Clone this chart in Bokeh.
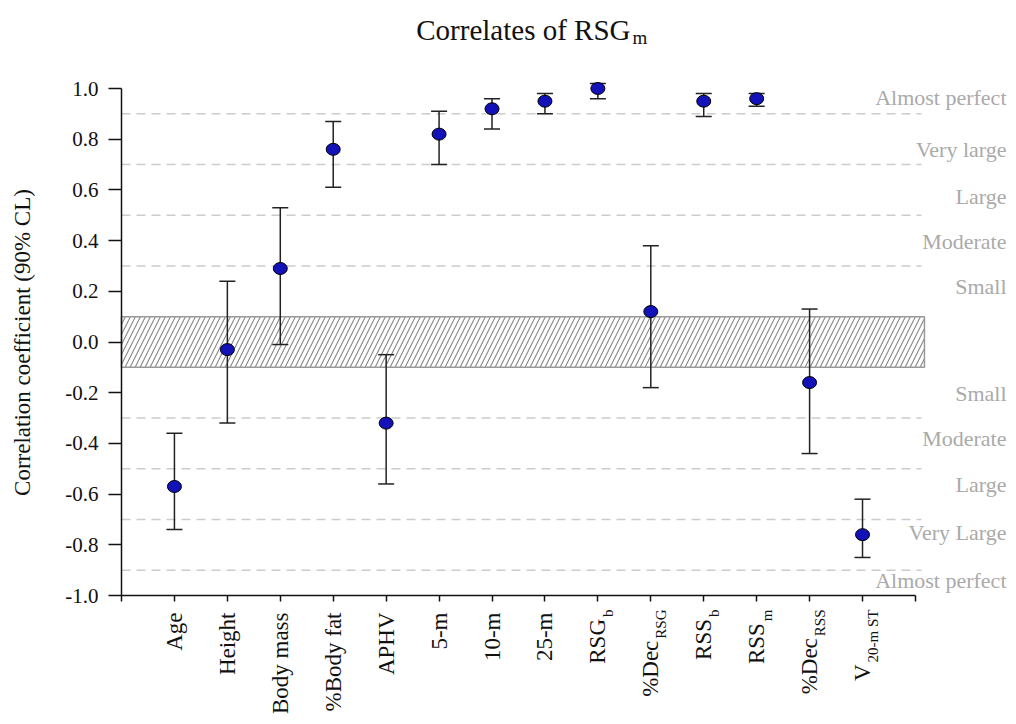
import math
from bokeh.plotting import figure
from bokeh.models import FixedTicker, Label, PrintfTickFormatter
from bokeh.embed import file_html
from bokeh.resources import INLINE

# ---------------- data ----------------
categories = ["Age", "Height", "Body mass", "%Body fat", "APHV", "5-m", "10-m",
              "25-m", "RSG", "%Dec", "RSS", "RSS", "%Dec", "V"]
subscripts = ["", "", "", "", "", "", "", "", "b", "RSG", "b", "m", "RSS", "20-m ST"]
r_values = [-0.57, -0.03, 0.29, 0.76, -0.32, 0.82, 0.92, 0.95, 1.00, 0.12, 0.95, 0.96, -0.16, -0.76]
ci_lower = [-0.74, -0.32, -0.01, 0.61, -0.56, 0.70, 0.84, 0.90, 0.96, -0.18, 0.89, 0.93, -0.44, -0.85]
ci_upper = [-0.36, 0.24, 0.53, 0.87, -0.05, 0.91, 0.96, 0.98, 1.02, 0.38, 0.98, 0.98, 0.13, -0.62]

thresholds = [0.9, 0.7, 0.5, 0.3, -0.3, -0.5, -0.7, -0.9]
trivial_band = [-0.1, 0.1]
y_ticks = [-1.0, -0.8, -0.6, -0.4, -0.2, 0.0, 0.2, 0.4, 0.6, 0.8, 1.0]

magnitude_labels = ["Almost perfect", "Very large", "Large", "Moderate", "Small",
                    "Small", "Moderate", "Large", "Very Large", "Almost perfect"]
magnitude_label_y = [0.963, 0.76, 0.574, 0.397, 0.22,
                     -0.204, -0.382, -0.562, -0.75, -0.941]

title_main = "Correlates of RSG"
title_sub = "m"
y_label = "Correlation coefficient (90% CL)"

# ---------------- geometry ----------------
FONT = "Liberation Serif"
INK = "#111111"
CANVAS_W, CANVAS_H = 1008, 716
PX_PER_X = 52.93          # pixels per category step
PX_PER_Y = 253.5          # pixels per unit of r
AXIS_LEFT_PX = 121        # page x of x = 0 (y axis)
AXIS_TOP_PX = 88          # page y of r = 1.0

X_START = -AXIS_LEFT_PX / PX_PER_X
X_END = X_START + CANVAS_W / PX_PER_X
Y_END = 1.0 + AXIS_TOP_PX / PX_PER_Y
Y_START = Y_END - CANVAS_H / PX_PER_Y

n = len(categories)
xs = list(range(1, n + 1))
X_AXIS_END = n + 1


def data_x(px):
    return X_START + px / PX_PER_X


def data_y(py):
    return Y_END - py / PX_PER_Y


def dx(px):
    return px / PX_PER_X


# approximate Times advance widths (em) for subscript placement
TIMES_W = {"R": 0.667, "S": 0.556, "G": 0.722, "b": 0.5, "m": 0.778, "2": 0.5,
           "0": 0.5, "-": 0.333, " ": 0.25, "T": 0.611}


def text_width(s, size):
    return sum(TIMES_W.get(c, 0.5) for c in s) * size


p = figure(frame_width=CANVAS_W, frame_height=CANVAS_H,
           x_range=(X_START, X_END), y_range=(Y_START, Y_END),
           output_backend="svg", toolbar_location=None,
           min_border_left=0, min_border_right=0,
           min_border_top=0, min_border_bottom=0)
p.outline_line_color = None
p.xgrid.visible = False
p.ygrid.visible = False
p.background_fill_color = "white"
p.border_fill_color = "white"

# ---- axes (fixed inside the frame) ----
p.xaxis.fixed_location = -1.0
p.xaxis.ticker = FixedTicker(ticks=list(range(0, X_AXIS_END + 1)))
p.xaxis.major_label_overrides = {i: "" for i in range(0, X_AXIS_END + 1)}
p.xaxis.bounds = (0, X_AXIS_END)
p.xaxis.major_tick_in = 0
p.xaxis.major_tick_out = 6
p.xaxis.minor_tick_line_color = None
p.xaxis.axis_line_width = 1.5
p.xaxis.major_tick_line_width = 1.5
p.xaxis.axis_line_color = INK
p.xaxis.major_tick_line_color = INK

p.yaxis.fixed_location = 0
p.yaxis.ticker = FixedTicker(ticks=y_ticks)
p.yaxis.formatter = PrintfTickFormatter(format="%.1f")
p.yaxis.bounds = (-1.0, 1.0)
p.yaxis.major_tick_in = 0
p.yaxis.major_tick_out = 13
p.yaxis.minor_tick_line_color = None
p.yaxis.axis_line_width = 1.5
p.yaxis.major_tick_line_width = 1.5
p.yaxis.axis_line_color = INK
p.yaxis.major_tick_line_color = INK
p.yaxis.major_label_standoff = 10
p.yaxis.major_label_text_font = FONT
p.yaxis.major_label_text_font_size = "21px"
p.yaxis.major_label_text_color = INK

# ---- threshold dashed lines ----
p.segment(x0=[0] * len(thresholds), x1=[X_AXIS_END + dx(6)] * len(thresholds),
          y0=thresholds, y1=thresholds, line_color="#cccccc", line_width=1.5,
          line_dash="9 6")

# ---- trivial band (hatched) ----
p.quad(left=[0], right=[X_AXIS_END + dx(9)], bottom=[trivial_band[0]], top=[trivial_band[1]],
       fill_color="white", line_color="#999999", line_width=1.5,
       hatch_pattern="/", hatch_color="#858585", hatch_scale=10, hatch_weight=1.1)

# ---- error bars ----
p.segment(x0=xs, x1=xs, y0=ci_lower, y1=ci_upper, line_color="#222222", line_width=1.5)
p.scatter(x=xs, y=ci_lower, marker="dash", size=16, line_color="#222222", line_width=1.5)
p.scatter(x=xs, y=ci_upper, marker="dash", size=16, line_color="#222222", line_width=1.5)

# ---- points ----
p.ellipse(x=xs, y=r_values, width=14, height=12, width_units="screen", height_units="screen",
          fill_color="#1212b8", line_color="#000000", line_width=1)

# ---- magnitude labels on the right ----
for txt, yy in zip(magnitude_labels, magnitude_label_y):
    p.add_layout(Label(x=data_x(1006), y=yy, text=txt, text_align="right", text_baseline="middle",
                       text_font=FONT, text_font_size="22px", text_color="#aaaaaa"))

# ---- x category labels (rotated, with subscripts) ----
MAIN_SIZE, SUB_SIZE = 23, 15
LABEL_END_PX = 612      # page y where the labels end (near the axis)
for x, main, sub in zip(xs, categories, subscripts):
    if sub:
        p.add_layout(Label(x=x + dx(10), y=data_y(LABEL_END_PX - 3), text=sub, angle=math.pi / 2,
                           text_align="right", text_baseline="middle",
                           text_font=FONT, text_font_size=f"{SUB_SIZE}px", text_color=INK))
        end_px = LABEL_END_PX - 3 + text_width(sub, SUB_SIZE) + 2
    else:
        end_px = LABEL_END_PX
    p.add_layout(Label(x=x, y=data_y(end_px), text=main, angle=math.pi / 2,
                       text_align="right", text_baseline="middle",
                       text_font=FONT, text_font_size=f"{MAIN_SIZE}px", text_color=INK))

# ---- y axis title ----
p.add_layout(Label(x=data_x(22), y=data_y(342), text=y_label, angle=math.pi / 2,
                   text_align="center", text_baseline="middle",
                   text_font=FONT, text_font_size="23px", text_color=INK))

# ---- chart title with subscript ----
p.add_layout(Label(x=data_x(630), y=data_y(29), text=title_main, text_align="right",
                   text_baseline="alphabetic", text_font=FONT, text_font_size="29px",
                   text_color=INK))
p.add_layout(Label(x=data_x(632), y=data_y(37), text=title_sub, text_align="left",
                   text_baseline="alphabetic", text_font=FONT, text_font_size="19px",
                   text_color=INK))

open("out.html", "w").write(file_html(p, INLINE))
